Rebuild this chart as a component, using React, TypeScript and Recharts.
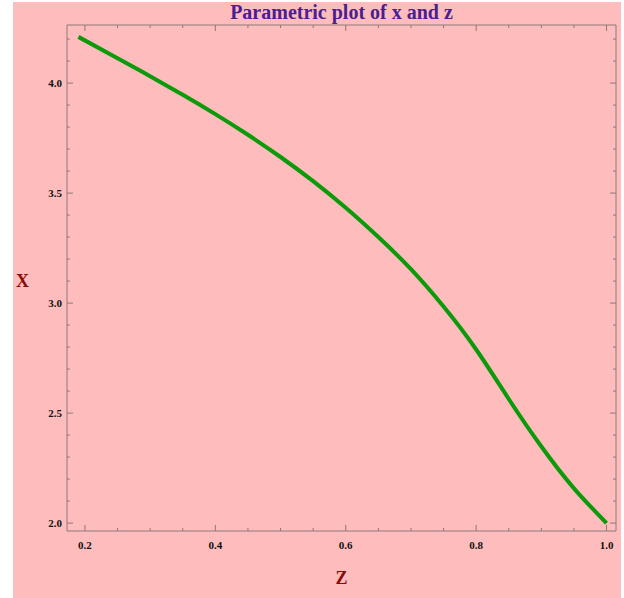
import React from 'react';
import { LineChart, Line, XAxis, YAxis } from 'recharts';

// parametric curve: z on the horizontal axis, x on the vertical
const zValues = [0.19, 0.25, 0.3, 0.35, 0.4, 0.45, 0.5, 0.55, 0.6, 0.65, 0.7, 0.75, 0.8, 0.85, 0.9, 0.95, 1.0];
const xValues = [4.21, 4.113, 4.031, 3.947, 3.859, 3.765, 3.664, 3.554, 3.433, 3.3, 3.154, 2.984, 2.789, 2.564, 2.348, 2.158, 2.0];

const zTicks = [0.2, 0.25, 0.3, 0.35, 0.4, 0.45, 0.5, 0.55, 0.6, 0.65, 0.7, 0.75, 0.8, 0.85, 0.9, 0.95, 1.0];
const xTicks = [2.0, 2.1, 2.2, 2.3, 2.4, 2.5, 2.6, 2.7, 2.8, 2.9, 3.0, 3.1, 3.2, 3.3, 3.4, 3.5, 3.6, 3.7, 3.8, 3.9, 4.0, 4.1, 4.2];

const title = 'Parametric plot of x and z';
const xLabel = 'X';
const zLabel = 'Z';

const data = zValues.map((z, i) => ({ z, x: xValues[i] }));

const FRAME = '#8a7a7a';
const tickFont = { fontFamily: '"Liberation Serif", serif', fontWeight: 700, fontSize: 11, fill: '#111' };

const isStep = (v: number, step: number) => Math.abs(v / step - Math.round(v / step)) < 1e-6;

// Mathematica-style frame ticks: drawn inward, labels only on bottom/left
const HTick = (side: 'top' | 'bottom') => (props: any) => {
  const { x, y, payload } = props;
  const v = payload.value as number;
  const major = isStep(v, 0.2);
  const len = major ? 6 : 3;
  const dir = side === 'bottom' ? -1 : 1;
  return (
    <g>
      <line x1={x} x2={x} y1={y} y2={y + dir * len} stroke={FRAME} strokeWidth={1} />
      {side === 'bottom' && major && (
        <text x={x} y={y + 18} textAnchor="middle" {...tickFont}>
          {v.toFixed(1)}
        </text>
      )}
    </g>
  );
};

const VTick = (side: 'left' | 'right') => (props: any) => {
  const { x, y, payload } = props;
  const v = payload.value as number;
  const major = isStep(v, 0.5);
  const len = major ? 6 : 3;
  const dir = side === 'left' ? 1 : -1;
  return (
    <g>
      <line x1={x} x2={x + dir * len} y1={y} y2={y} stroke={FRAME} strokeWidth={1} />
      {side === 'left' && major && (
        <text x={x - 5} y={y + 4} textAnchor="end" {...tickFont}>
          {v.toFixed(1)}
        </text>
      )}
    </g>
  );
};

export default function App() {
  const zDomain = [0.1725, 1.0145];
  const xDomain = [1.964, 4.264];
  return (
    <div style={{ position: 'absolute', left: 0, top: 0, width: 624, height: 598, background: '#fff' }}>
      <div style={{ position: 'absolute', left: 13, top: 2, width: 608, height: 596, background: '#ffbcbc' }} />
      <div
        style={{
          position: 'absolute',
          left: 67,
          width: 549,
          top: 1,
          textAlign: 'center',
          fontFamily: '"Liberation Serif", serif',
          fontWeight: 700,
          fontSize: 20,
          lineHeight: '22px',
          color: '#4a2090',
        }}
      >
        {title}
      </div>
      <div
        style={{
          position: 'absolute',
          left: 16,
          top: 271,
          fontFamily: '"Liberation Serif", serif',
          fontWeight: 700,
          fontSize: 18,
          color: '#8b0a0a',
        }}
      >
        {xLabel}
      </div>
      <div
        style={{
          position: 'absolute',
          left: 67,
          width: 549,
          top: 568,
          textAlign: 'center',
          fontFamily: '"Liberation Serif", serif',
          fontWeight: 700,
          fontSize: 18,
          color: '#8b0a0a',
        }}
      >
        {zLabel}
      </div>
      <div style={{ position: 'absolute', left: 0, top: 0 }}>
        <LineChart width={624} height={598} data={data} margin={{ top: 0, right: 0, bottom: 0, left: 0 }}>
          <XAxis
            xAxisId="bottom"
            dataKey="z"
            type="number"
            domain={zDomain}
            allowDataOverflow
            ticks={zTicks}
            interval={0}
            height={67}
            tickSize={0}
            tickMargin={0}
            tickLine={false}
            axisLine={{ stroke: FRAME }}
            tick={HTick('bottom')}
          />
          <XAxis
            xAxisId="top"
            orientation="top"
            dataKey="z"
            type="number"
            domain={zDomain}
            allowDataOverflow
            ticks={zTicks}
            interval={0}
            height={25}
            tickSize={0}
            tickMargin={0}
            tickLine={false}
            axisLine={{ stroke: FRAME }}
            tick={HTick('top')}
          />
          <YAxis
            yAxisId="left"
            dataKey="x"
            type="number"
            domain={xDomain}
            allowDataOverflow
            ticks={xTicks}
            interval={0}
            width={67}
            tickSize={0}
            tickMargin={0}
            tickLine={false}
            axisLine={{ stroke: FRAME }}
            tick={VTick('left')}
          />
          <YAxis
            yAxisId="right"
            orientation="right"
            dataKey="x"
            type="number"
            domain={xDomain}
            allowDataOverflow
            ticks={xTicks}
            interval={0}
            width={8}
            tickSize={0}
            tickMargin={0}
            tickLine={false}
            axisLine={{ stroke: FRAME }}
            tick={VTick('right')}
          />
          <Line
            xAxisId="bottom"
            yAxisId="left"
            type="natural"
            dataKey="x"
            stroke="#0a9a0a"
            strokeWidth={4}
            dot={false}
            isAnimationActive={false}
          />
        </LineChart>
      </div>
    </div>
  );
}
